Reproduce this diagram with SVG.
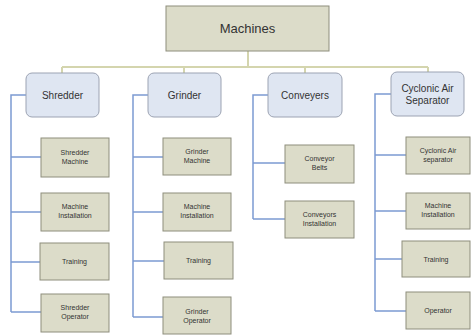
<svg xmlns="http://www.w3.org/2000/svg" width="471" height="335" viewBox="0 0 471 335">
<style>
.bg{fill:#ffffff}
.tan{fill:#dcdcc9;stroke:#8e8e7c;stroke-width:1}
.blue{fill:#dfe6f2;stroke:#9ca3b3;stroke-width:1}
.t{font-family:"Liberation Sans",Arial,sans-serif;fill:#333333;text-anchor:middle}
.top{font-size:13px}
.mid{font-size:10px}
.sm{font-size:7px}
.ct{fill:none;stroke:#d4d5ae;stroke-width:2}
.cb{fill:none;stroke:#7c9bd2;stroke-width:1.5}
</style>
<rect class="bg" x="0" y="0" width="471" height="335"/>
<g id="connectors">
<path class="ct" d="M248,51 V67 M62,67 H428 M62,67 V73 M184,67 V73 M305,67 V73 M428,67 V72"/>
<path class="cb" d="M26,95 H11 V312 M11,157 H41 M11,212 H41 M11,262 H40 M11,312 H41"/>
<path class="cb" d="M148,95 H133 V317 M133,157 H163 M133,212 H163 M133,261 H164 M133,317 H163"/>
<path class="cb" d="M268,95 H253 V219 M253,163 H285 M253,219 H285"/>
<path class="cb" d="M391,94 H375 V311 M375,155 H406 M375,211 H406 M375,259 H402 M375,311 H406"/>
</g>
<g id="machines"><rect class="tan" x="166" y="6" width="163" height="45"/><text class="t top" x="247.5" y="33">Machines</text></g>
<g id="shredder"><rect class="blue" x="26" y="73" width="73" height="44" rx="6"/><text class="t mid" x="62.5" y="98.5">Shredder</text></g>
<g id="grinder"><rect class="blue" x="148" y="73" width="73" height="44" rx="6"/><text class="t mid" x="184.5" y="98.5">Grinder</text></g>
<g id="conveyers"><rect class="blue" x="268" y="73" width="74" height="44" rx="6"/><text class="t mid" x="305" y="98.5">Conveyers</text></g>
<g id="cyclonic"><rect class="blue" x="391" y="72" width="73" height="44" rx="6"/><text class="t mid" x="427.5" y="92">Cyclonic Air</text><text class="t mid" x="427.5" y="104">Separator</text></g>
<g id="shredder-machine"><rect class="tan" x="41" y="138" width="68" height="39"/><text class="t sm" x="75" y="155">Shredder</text><text class="t sm" x="75" y="164">Machine</text></g>
<g id="shredder-installation"><rect class="tan" x="41" y="193" width="68" height="38"/><text class="t sm" x="75" y="209">Machine</text><text class="t sm" x="75" y="218">Installation</text></g>
<g id="shredder-training"><rect class="tan" x="40" y="243" width="69" height="37"/><text class="t sm" x="74.5" y="264">Training</text></g>
<g id="shredder-operator"><rect class="tan" x="41" y="294" width="68" height="38"/><text class="t sm" x="75" y="310">Shredder</text><text class="t sm" x="75" y="319">Operator</text></g>
<g id="grinder-machine"><rect class="tan" x="163" y="138" width="68" height="37"/><text class="t sm" x="197" y="154">Grinder</text><text class="t sm" x="197" y="163">Machine</text></g>
<g id="grinder-installation"><rect class="tan" x="163" y="193" width="68" height="38"/><text class="t sm" x="197" y="209">Machine</text><text class="t sm" x="197" y="218">Installation</text></g>
<g id="grinder-training"><rect class="tan" x="164" y="242" width="69" height="37"/><text class="t sm" x="198.5" y="263">Training</text></g>
<g id="grinder-operator"><rect class="tan" x="163" y="297" width="68" height="37"/><text class="t sm" x="197" y="314">Grinder</text><text class="t sm" x="197" y="323">Operator</text></g>
<g id="conveyor-belts"><rect class="tan" x="285" y="145" width="69" height="38"/><text class="t sm" x="319.5" y="161">Conveyor</text><text class="t sm" x="319.5" y="170">Belts</text></g>
<g id="conveyors-installation"><rect class="tan" x="285" y="201" width="69" height="37"/><text class="t sm" x="319.5" y="217">Conveyors</text><text class="t sm" x="319.5" y="226">Installation</text></g>
<g id="cyclonic-separator"><rect class="tan" x="406" y="137" width="64" height="37"/><text class="t sm" x="438" y="153">Cyclonic Air</text><text class="t sm" x="438" y="162">separator</text></g>
<g id="cyclonic-installation"><rect class="tan" x="406" y="193" width="64" height="36"/><text class="t sm" x="438" y="208">Machine</text><text class="t sm" x="438" y="217">Installation</text></g>
<g id="cyclonic-training"><rect class="tan" x="402" y="241" width="68" height="36"/><text class="t sm" x="436" y="262">Training</text></g>
<g id="cyclonic-operator"><rect class="tan" x="406" y="292" width="64" height="37"/><text class="t sm" x="438" y="313">Operator</text></g>
</svg>
